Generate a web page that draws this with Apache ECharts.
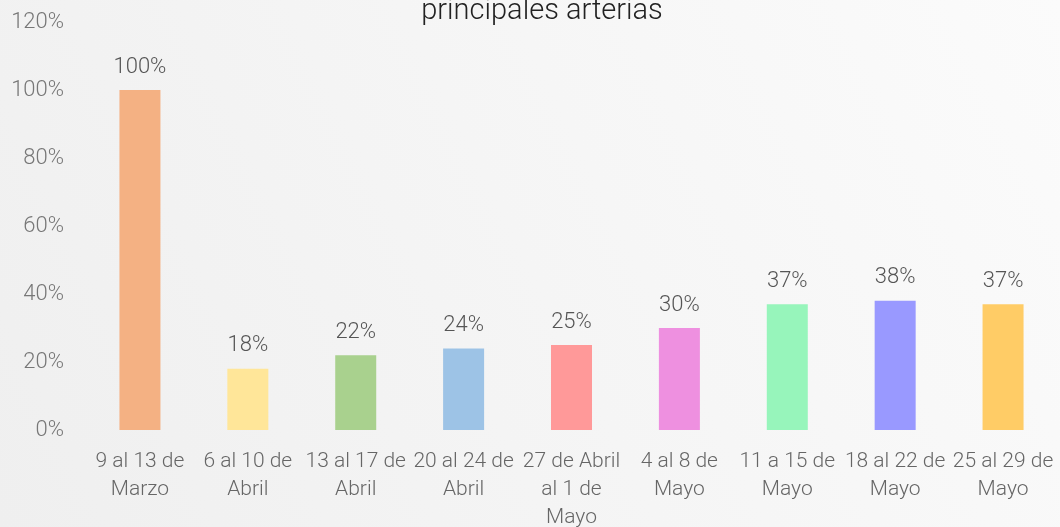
<!DOCTYPE html>
<html>
<head>
<meta charset="utf-8">
<script src="https://cdn.jsdelivr.net/npm/echarts@6/dist/echarts.min.js"></script>
<style>
  html, body { margin: 0; padding: 0; }
  #main { width: 1060px; height: 527px; }
</style>
</head>
<body>
<div id="main"></div>
<script>
// semanas
var categorias = [
  '9 al 13 de\nMarzo', '6 al 10 de\nAbril', '13 al 17 de\nAbril', '20 al 24 de\nAbril',
  '27 de Abril\nal 1 de\nMayo', '4 al 8 de\nMayo', '11 a 15 de\nMayo', '18 al 22 de\nMayo', '25 al 29 de\nMayo'
];
var valores = [100, 18, 22, 24, 25, 30, 37, 38, 37];
var colores = ['#F4B183', '#FFE699', '#A9D18E', '#9DC3E6', '#FF9999', '#EE90E0', '#97F5BB', '#9999FF', '#FFCC66'];
var ticksY = [0, 20, 40, 60, 80, 100, 120];

var fuente = 'Roboto';

var myChart = echarts.init(document.getElementById('main'));
var option = {
  backgroundColor: new echarts.graphic.LinearGradient(1, 0, 0, 1, [
    { offset: 0, color: '#fbfbfb' },
    { offset: 1, color: '#efefef' }
  ]),
  title: {
    text: 'principales arterias',
    left: 537,
    textAlign: 'center',
    top: -8,
    textStyle: { fontFamily: fuente, fontWeight: 300, fontSize: 29, color: '#222' }
  },
  grid: { left: 86, right: 3, top: 22, bottom: 97, outerBoundsMode: 'none' },
  xAxis: {
    type: 'category',
    data: categorias,
    axisLine: { show: false },
    axisTick: { show: false },
    axisLabel: {
      interval: 0,
      margin: 18,
      fontFamily: fuente,
      fontWeight: 300,
      fontSize: 21,
      lineHeight: 28,
      color: '#666'
    }
  },
  yAxis: {
    type: 'value',
    min: ticksY[0],
    max: ticksY[ticksY.length - 1],
    interval: 20,
    splitLine: { show: false },
    axisLine: { show: false },
    axisTick: { show: false },
    axisLabel: {
      margin: 22,
      formatter: '{value}%',
      fontFamily: fuente,
      fontWeight: 300,
      fontSize: 22,
      color: '#777'
    }
  },
  series: [{
    type: 'bar',
    barWidth: 41,
    data: valores.map(function (v, i) {
      return { value: v, itemStyle: { color: colores[i] } };
    }),
    label: {
      show: true,
      position: 'top',
      distance: 12,
      formatter: '{c}%',
      fontFamily: fuente,
      fontWeight: 300,
      fontSize: 22,
      color: '#555'
    }
  }]
};
myChart.setOption(option);
</script>
</body>
</html>
